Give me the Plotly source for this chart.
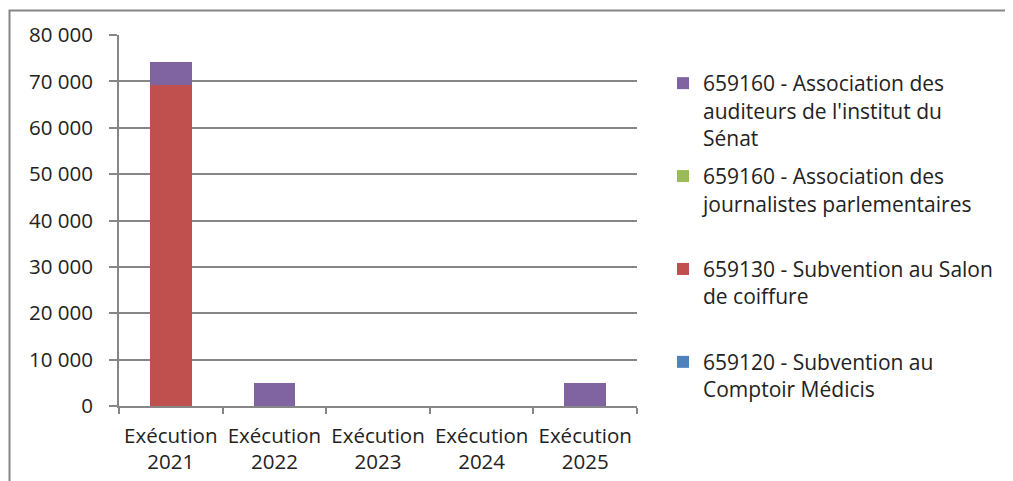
import plotly.graph_objects as go

categories = ["Exécution<br>2021", "Exécution<br>2022", "Exécution<br>2023", "Exécution<br>2024", "Exécution<br>2025"]

comptoir = [0, 0, 0, 0, 0]
salon = [69200, 0, 0, 0, 0]
journalistes = [0, 0, 0, 0, 0]
auditeurs = [5000, 5000, 0, 0, 5000]

series = [
    ("659120 - Subvention au<br>Comptoir Médicis", comptoir, "#4F81BD"),
    ("659130 - Subvention au Salon<br>de coiffure<br> ", salon, "#C0504D"),
    ("659160 - Association des<br>journalistes parlementaires<br> ", journalistes, "#9BBB59"),
    ("659160 - Association des<br>auditeurs de l'institut du<br>Sénat", auditeurs, "#8064A2"),
]

fig = go.Figure()
n = len(series)
for i, (name, vals, color) in enumerate(series):
    fig.add_trace(go.Bar(
        x=categories, y=vals, name=name, marker_color=color,
        marker_line_width=0, legendgroup=f"g{i}", legendrank=n - i,
    ))

OFF = 8  # page body margin
VW, VH = 1013, 481
W, H = VW - OFF, VH - OFF
px0, px1, py0, py1 = 119, 637, 35, 406  # plot area in viewport px
L = px0 - OFF
T = py0 - OFF
pw, ph = px1 - px0, py1 - py0
R = W - L - pw
B = H - T - ph

def xp(vx):
    return (vx - px0) / pw

def yp(vy):
    return (py1 - vy) / ph

FONT = "Open Sans"
fig.update_layout(
    width=W, height=H,
    barmode="stack", bargap=0.6,
    separators=", ",
    margin=dict(l=L, r=R, t=T, b=B, pad=0, autoexpand=False),
    paper_bgcolor="white", plot_bgcolor="white",
    font=dict(family=FONT, size=20, color="#222222"),
    showlegend=True,
    legend=dict(
        traceorder="grouped", tracegroupgap=8,
        x=xp(663), xanchor="left",
        y=yp(63), yanchor="top",
        valign="top", itemwidth=30, maxheight=460,
        font=dict(family=FONT, size=21, color="#222222"),
        bgcolor="rgba(0,0,0,0)",
    ),
    xaxis=dict(
        showline=True, linecolor="#868686", linewidth=2,
        ticks="outside", tickson="boundaries", ticklen=6, tickcolor="#868686", tickwidth=2,
        showgrid=False, tickfont=dict(size=20.5), fixedrange=True,
        ticklabelstandoff=10, automargin=False,
    ),
    yaxis=dict(
        range=[0, 80000], dtick=10000, tickformat=",d",
        showline=True, linecolor="#868686", linewidth=2,
        ticks="outside", ticklen=8, tickcolor="#868686", tickwidth=2,
        showgrid=True, gridcolor="#868686", gridwidth=1.5,
        zeroline=False, tickfont=dict(size=20.5), ticklabelstandoff=12,
        automargin=False,
    ),
    shapes=[dict(
        type="rect", xref="paper", yref="paper",
        x0=xp(9.5), x1=xp(VW + 20),
        y0=yp(VH + 20), y1=yp(10.5),
        line=dict(color="#868686", width=2), fillcolor="rgba(0,0,0,0)", layer="below",
    )],
)

fig.write_html("out.html")
